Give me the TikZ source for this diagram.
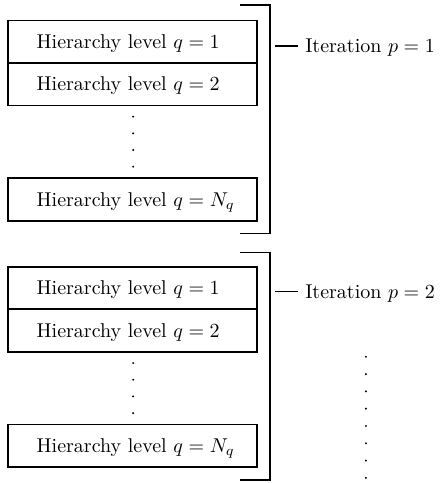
\documentclass[tikz,border=0pt]{standalone}
\usepackage{amsmath,amssymb}
\usepackage{tikz}
\usetikzlibrary{positioning}

\newcommand{\hlevel}[1]{\mbox{Hierarchy level $q = #1$}}

\begin{document}
\begin{tikzpicture}[
    level/.style={rectangle, draw, thick, minimum width=4.37cm, minimum height=0.75cm,
        text width=95.9pt, inner xsep=14pt, align=left, text height=7pt, text depth=0.5pt},
    iter/.style={anchor=west, text height=7pt, text depth=0.5pt},
    bracket/.style={thick},
    vdot/.style={fill=black}
]
    \useasboundingbox (0,0) rectangle (7.732,-8.488);

    % Iteration p = 1
    \node[level] (lvl1a) at (2.33,-0.735) {\hlevel{1}};
    \node[level] (lvl2a) at (2.33,-1.48) {\hlevel{2}};
    \node[level] (lvlNa) at (2.33,-3.506) {\hlevel{N_q}};
    \foreach \y in {-2.05,-2.343,-2.636,-2.93}
        \fill[vdot] (2.34,\y) circle (0.55pt);
    \draw[bracket] (4.21,-0.088) -- (4.74,-0.088) -- (4.74,-4.10) -- (4.21,-4.10);
    \coordinate (br1) at (4.83,-0.81);
    \node[iter] (iter1) at (5.24,-0.81) {Iteration $p = 1$};
    \draw[thick] (br1) -- (iter1.west);

    % Iteration p = 2
    \node[level] (lvl1b) at (2.33,-5.065) {\hlevel{1}};
    \node[level] (lvl2b) at (2.33,-5.81) {\hlevel{2}};
    \node[level] (lvlNb) at (2.33,-7.836) {\hlevel{N_q}};
    \foreach \y in {-6.38,-6.673,-6.966,-7.26}
        \fill[vdot] (2.34,\y) circle (0.55pt);
    \draw[bracket] (4.21,-4.434) -- (4.74,-4.434) -- (4.74,-8.435) -- (4.21,-8.435);
    \coordinate (br2) at (4.83,-5.126);
    \node[iter] (iter2) at (5.24,-5.126) {Iteration $p = 2$};
    \draw[thick] (br2) -- (iter2.west);

    % further iterations
    \foreach \i in {0,...,7}
        \fill[vdot] (6.43,-6.27-0.304*\i) circle (0.55pt);
\end{tikzpicture}
\end{document}
